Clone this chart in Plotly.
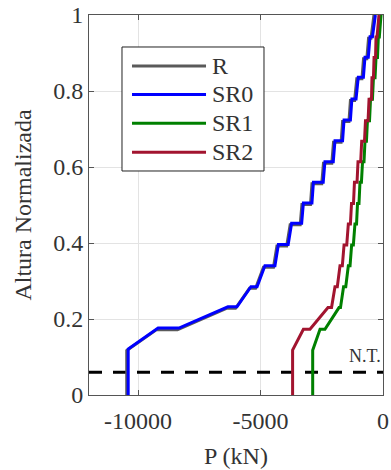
import plotly.graph_objects as go

# Normalized height levels (y) and axial loads P (kN) per series
y_r = [0, 0.117, 0.172, 0.172, 0.228, 0.228, 0.281, 0.281, 0.336, 0.336, 0.392, 0.392,
       0.448, 0.448, 0.501, 0.501, 0.556, 0.556, 0.61, 0.61, 0.665, 0.665, 0.72, 0.72,
       0.775, 0.775, 0.832, 0.832, 0.885, 0.885, 0.939, 0.939, 1.0]
p_r = [-10460, -10460, -9240, -8390, -6390, -6020, -5450, -5200, -4880, -4470, -4330, -3930,
       -3790, -3380, -3310, -2960, -2900, -2500, -2430, -2090, -2020, -1710, -1650, -1390,
       -1330, -1160, -1070, -860, -795, -660, -590, -490, -370]

y_sr0 = [0, 0.121, 0.176, 0.176, 0.232, 0.232, 0.285, 0.285, 0.34, 0.34, 0.396, 0.396,
         0.452, 0.452, 0.505, 0.505, 0.56, 0.56, 0.614, 0.614, 0.669, 0.669, 0.724, 0.724,
         0.779, 0.779, 0.836, 0.836, 0.889, 0.889, 0.943, 0.943, 1.0]
p_sr0 = [-10400, -10400, -9180, -8330, -6330, -5960, -5390, -5140, -4820, -4410, -4270, -3870,
         -3730, -3320, -3250, -2900, -2840, -2440, -2370, -2030, -1960, -1650, -1590, -1330,
         -1270, -1100, -1010, -800, -735, -600, -530, -430, -310]

y_sr = [0, 0.118, 0.173, 0.173, 0.23, 0.23, 0.285, 0.285, 0.34, 0.34, 0.395, 0.395,
        0.45, 0.45, 0.504, 0.504, 0.56, 0.56, 0.614, 0.614, 0.668, 0.668, 0.722, 0.722,
        0.778, 0.778, 0.835, 0.835, 0.888, 0.888, 0.942, 0.942, 1.0]
p_sr1 = [-2870, -2870, -2570, -2370, -1795, -1735, -1610, -1520, -1415, -1345, -1280, -1210,
         -1145, -1080, -1040, -980, -940, -880, -835, -775, -735, -675, -635, -550,
         -510, -430, -390, -325, -285, -225, -190, -150, -80]
p_sr2 = [-3690, -3690, -3250, -2980, -2245, -2100, -1960, -1865, -1755, -1660, -1590, -1480,
         -1415, -1330, -1285, -1205, -1165, -1060, -1020, -910, -870, -755, -715, -610,
         -570, -470, -450, -390, -365, -305, -285, -245, -165]

series_names = ["R", "SR0", "SR1", "SR2"]
series_colors = ["#5a5a5a", "#0000ff", "#008000", "#a2142f"]

nt_level = 0.06
x_range = [-12000, 0]
x_ticks = [-10000, -5000, 0]
x_ticktext = ["-10000", "-5000", "0"]
y_ticks = [0, 0.2, 0.4, 0.6, 0.8, 1]
y_ticktext = ["0", "0.2", "0.4", "0.6", "0.8", "1"]

FONT = "Liberation Serif, Times New Roman, serif"
TXT = "#333333"

fig = go.Figure()
fig.add_trace(go.Scatter(x=x_range, y=[nt_level, nt_level], mode="lines",
                         line=dict(color="black", width=3, dash="13px,11px"),
                         showlegend=False, hoverinfo="skip"))
for name, xs, ys, col in zip(series_names, [p_r, p_sr0, p_sr1, p_sr2],
                             [y_r, y_sr0, y_sr, y_sr], series_colors):
    fig.add_trace(go.Scatter(x=xs, y=ys, mode="lines", name=name,
                             line=dict(color=col, width=3), showlegend=False))

fig.add_annotation(x=0, y=nt_level, xref="x", yref="y", text="N.T.",
                   showarrow=False, xanchor="right", yanchor="bottom", yshift=4,
                   font=dict(family=FONT, size=18, color=TXT))

# Manual legend (MATLAB-style box with long line samples)
leg_x0, leg_x1, leg_y0, leg_y1 = 0.1122, 0.5952, 0.5895, 0.9158
line_x0, line_x1, text_x = 0.1463, 0.398, 0.413
row_y = [0.8658, 0.7908, 0.715, 0.6387]
fig.add_shape(type="rect", xref="paper", yref="paper", x0=leg_x0, x1=leg_x1, y0=leg_y0, y1=leg_y1,
              line=dict(color="#222222", width=1), fillcolor="white", layer="above")
for name, col, ry in zip(series_names, series_colors, row_y):
    fig.add_shape(type="line", xref="paper", yref="paper", x0=line_x0, x1=line_x1, y0=ry, y1=ry,
                  line=dict(color=col, width=3), layer="above")
    fig.add_annotation(x=text_x, y=ry, xref="paper", yref="paper", text=name, showarrow=False,
                       xanchor="left", yanchor="middle",
                       font=dict(family=FONT, size=24, color=TXT))

axis_common = dict(showline=True, linecolor="#555555", linewidth=1, mirror="ticks",
                   ticks="inside", ticklen=5, tickcolor="#555555", automargin=False,
                   ticklabeloverflow="allow",
                   showgrid=True, gridcolor="#e3e3e3", gridwidth=1, zeroline=False,
                   tickfont=dict(family=FONT, size=24, color=TXT))

fig.update_xaxes(range=x_range, tickvals=x_ticks, ticktext=x_ticktext, ticklabelstandoff=4,
                 title=dict(text="P (kN)", font=dict(family=FONT, size=24, color=TXT), standoff=14),
                 **axis_common)
fig.update_yaxes(range=[0, 1], tickvals=y_ticks, ticktext=y_ticktext,
                 title=dict(text="Altura Normalizada", font=dict(family=FONT, size=24, color=TXT), standoff=14),
                 **axis_common)

fig.update_layout(
    width=391, height=470,
    margin=dict(l=89, r=8, t=15, b=75),
    paper_bgcolor="white", plot_bgcolor="white",
    font=dict(family=FONT, size=24, color=TXT),
    showlegend=False,
)

# Remove the default page margin so the figure sits at the window's top-left corner
fig.write_html("out.html", config={"displayModeBar": False},
               post_script="document.body.style.margin='0';")
